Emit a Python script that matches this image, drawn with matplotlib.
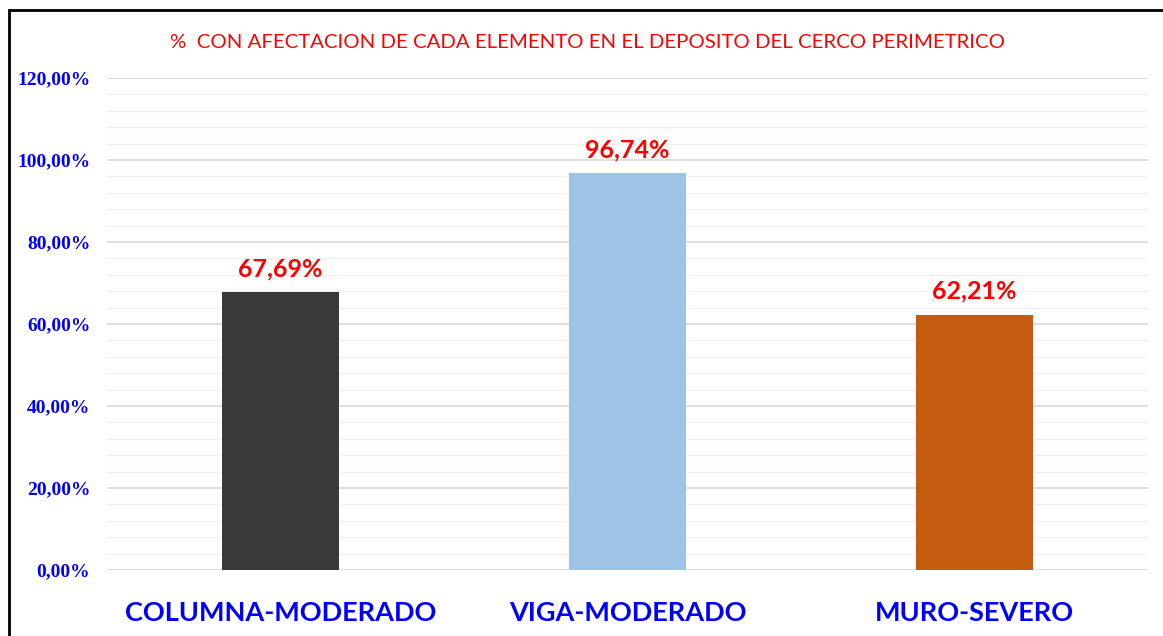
import numpy as np
import matplotlib.pyplot as plt
from matplotlib.patches import Rectangle

categorias = ['COLUMNA-MODERADO', 'VIGA-MODERADO', 'MURO-SEVERO']
porcentajes = [67.69, 96.74, 62.21]
colores = ['#3b3a38', '#9dc3e6', '#c55a11']
titulo = '%  CON AFECTACION DE CADA ELEMENTO EN EL DEPOSITO DEL CERCO PERIMETRICO'

W, H = 1163, 636
fig = plt.figure(figsize=(W / 100, H / 100), dpi=100)
ax = fig.add_axes([107 / W, 1 - 570 / H, (1148 - 107) / W, (570 - 78) / H])

x = np.arange(len(categorias))
ax.bar(x, porcentajes, width=0.335, color=colores, zorder=3)

ax.set_xlim(-0.5, 2.5)
ax.set_ylim(0, 120)
ax.set_yticks(np.arange(0, 121, 20))
ax.set_yticks(np.arange(0, 121, 4), minor=True)
ax.set_yticklabels(['%d,00%%' % v for v in np.arange(0, 121, 20)],
                   fontfamily='Liberation Serif', fontweight='bold',
                   fontsize=14, color='#0000ff')
ax.grid(axis='y', which='major', color='#d9d9d9', linewidth=1.2, zorder=0)
ax.grid(axis='y', which='minor', color='#f0f0f0', linewidth=1.0, zorder=0)
ax.tick_params(axis='y', which='both', length=0, pad=12)
ax.tick_params(axis='x', length=0, pad=22)
ax.set_xticks(x)
ax.set_xticklabels(categorias, fontfamily='Lato', fontweight='bold',
                   fontsize=19.5, color='#0000ff')
for s in ax.spines.values():
    s.set_visible(False)

for xi, v in zip(x, porcentajes):
    ax.text(xi, v + 3, ('%.2f%%' % v).replace('.', ','), ha='center', va='bottom',
            fontfamily='Lato', fontweight='bold', fontsize=18, color='#ff0000')

fig.text(588 / W, 1 - 42 / H, titulo, ha='center', va='center',
         fontfamily='Lato', fontsize=14.7, color='#ff0000')

fig.patches.append(Rectangle((9 / W, -0.1), 1.2, 1 - 10 / H + 0.1,
                             transform=fig.transFigure, fill=False,
                             edgecolor='black', linewidth=2))

fig.savefig('out.png', dpi=100)
